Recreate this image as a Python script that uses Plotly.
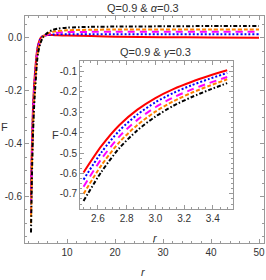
import plotly.graph_objects as go

# radial coordinate samples
r = [2.5, 2.625, 2.75, 2.875, 3.0, 3.125, 3.25, 3.375, 3.5, 3.75, 4.0, 4.5, 5, 6, 7, 8, 10, 15, 20, 30, 40, 50]

F_red     = [-0.595, -0.465, -0.362, -0.287, -0.230, -0.186, -0.151, -0.121, -0.094, -0.050, -0.025, 0.000, 0.008, 0.011, 0.011, 0.010, 0.009, 0.007, 0.005, 0.003, 0.002, 0.001]
F_blue    = [-0.630, -0.496, -0.389, -0.311, -0.251, -0.205, -0.168, -0.136, -0.107, -0.058, -0.030, -0.003, 0.007, 0.012, 0.013, 0.014, 0.014, 0.014, 0.014, 0.014, 0.014, 0.014]
F_magenta = [-0.665, -0.528, -0.418, -0.337, -0.275, -0.227, -0.189, -0.156, -0.127, -0.070, -0.040, -0.010, 0.004, 0.014, 0.018, 0.020, 0.022, 0.023, 0.023, 0.023, 0.023, 0.023]
F_orange  = [-0.700, -0.559, -0.446, -0.362, -0.297, -0.246, -0.205, -0.170, -0.138, -0.075, -0.045, -0.012, 0.004, 0.017, 0.023, 0.026, 0.029, 0.031, 0.032, 0.032, 0.032, 0.032]
F_black   = [-0.735, -0.591, -0.475, -0.388, -0.321, -0.268, -0.226, -0.190, -0.157, -0.090, -0.055, -0.018, 0.002, 0.020, 0.030, 0.035, 0.039, 0.042, 0.043, 0.044, 0.045, 0.045]

series = [
    ("red", F_red, "solid"),
    ("blue", F_blue, "2px,2px"),
    ("magenta", F_magenta, "7px,5px"),
    ("#ff8000", F_orange, "4px,2px"),
    ("black", F_black, "4px,2px,1.5px,2px"),
]

main_xticks = [10, 20, 30, 40, 50]
main_yticks = [0.0, -0.2, -0.4, -0.6]
inset_xticks = [2.6, 2.8, 3.0, 3.2, 3.4]
inset_yticks = [-0.1, -0.2, -0.3, -0.4, -0.5, -0.6, -0.7]

fig = go.Figure()
for color, F, dash in series:
    fig.add_trace(go.Scatter(x=r, y=F, mode="lines", line=dict(color=color, width=2, dash=dash, shape="spline", smoothing=0.8),
                             xaxis="x", yaxis="y", showlegend=False, hoverinfo="skip"))
for color, F, dash in series:
    xs = [v for v in r if v <= 3.5]
    ys = F[:len(xs)]
    fig.add_trace(go.Scatter(x=xs, y=ys, mode="lines", line=dict(color=color, width=2, dash=dash, shape="spline", smoothing=0.8),
                             xaxis="x2", yaxis="y2", showlegend=False, hoverinfo="skip"))

font = dict(family="Liberation Sans Narrow, Liberation Sans, Arial", size=10, color="#333")
axcommon = dict(showgrid=False, zeroline=False, showline=True, linecolor="#999", linewidth=1, mirror="ticks",
                ticks="inside", ticklen=4, tickcolor="#999", tickfont=font,
                minor=dict(ticks="inside", ticklen=2, tickcolor="#999"))

fig.update_layout(
    width=266, height=280,
    margin=dict(l=25, r=2, t=16, b=37),
    paper_bgcolor="white", plot_bgcolor="white",
    xaxis=dict(domain=[0, 1], range=[1.25, 51.04], tickvals=main_xticks, ticktext=[str(v) for v in main_xticks],
               minor_dtick=2, **axcommon),
    yaxis=dict(domain=[0, 1], range=[-0.775, 0.083], tickvals=main_yticks, ticktext=["0.0", "-0.2", "-0.4", "-0.6"],
               minor_dtick=0.05, **axcommon),
    xaxis2=dict(domain=[0.230, 0.870], anchor="y2", range=[2.475, 3.54], tickvals=inset_xticks,
                ticktext=["2.6", "2.8", "3.0", "3.2", "3.4"], minor_dtick=0.05, **axcommon),
    yaxis2=dict(domain=[0.150, 0.802], anchor="x2", range=[-0.774, -0.048], tickvals=inset_yticks,
                ticktext=["-0.1", "-0.2", "-0.3", "-0.4", "-0.5", "-0.6", "-0.7"], minor_dtick=0.025, **axcommon),
    shapes=[dict(type="rect", xref="x2 domain", yref="y2 domain", x0=0, x1=1, y0=0, y1=1,
                 fillcolor="white", line=dict(width=0), layer="below")],
)

ann_font = dict(family="Liberation Sans Narrow, Liberation Sans, Arial", size=11, color="#333")
def ann(text, x, y):
    fig.add_annotation(text=text, x=x, y=y, xref="paper", yref="paper", showarrow=False, font=ann_font,
                       xanchor="center", yanchor="middle")
ann("Q=0.9 &amp; <i>α</i>=0.3", 0.494, 1.035)
ann("Q=0.9 &amp; <i>γ</i>=0.3", 0.548, 0.841)
ann("F", -0.084, 0.511)
ann("<i>r</i>", 0.494, -0.128)
ann("F", 0.126, 0.476)
ann("<i>r</i>", 0.544, 0.022)

fig.write_html("out.html", config={"displayModeBar": False},
               post_script="document.body.style.margin='0';")
